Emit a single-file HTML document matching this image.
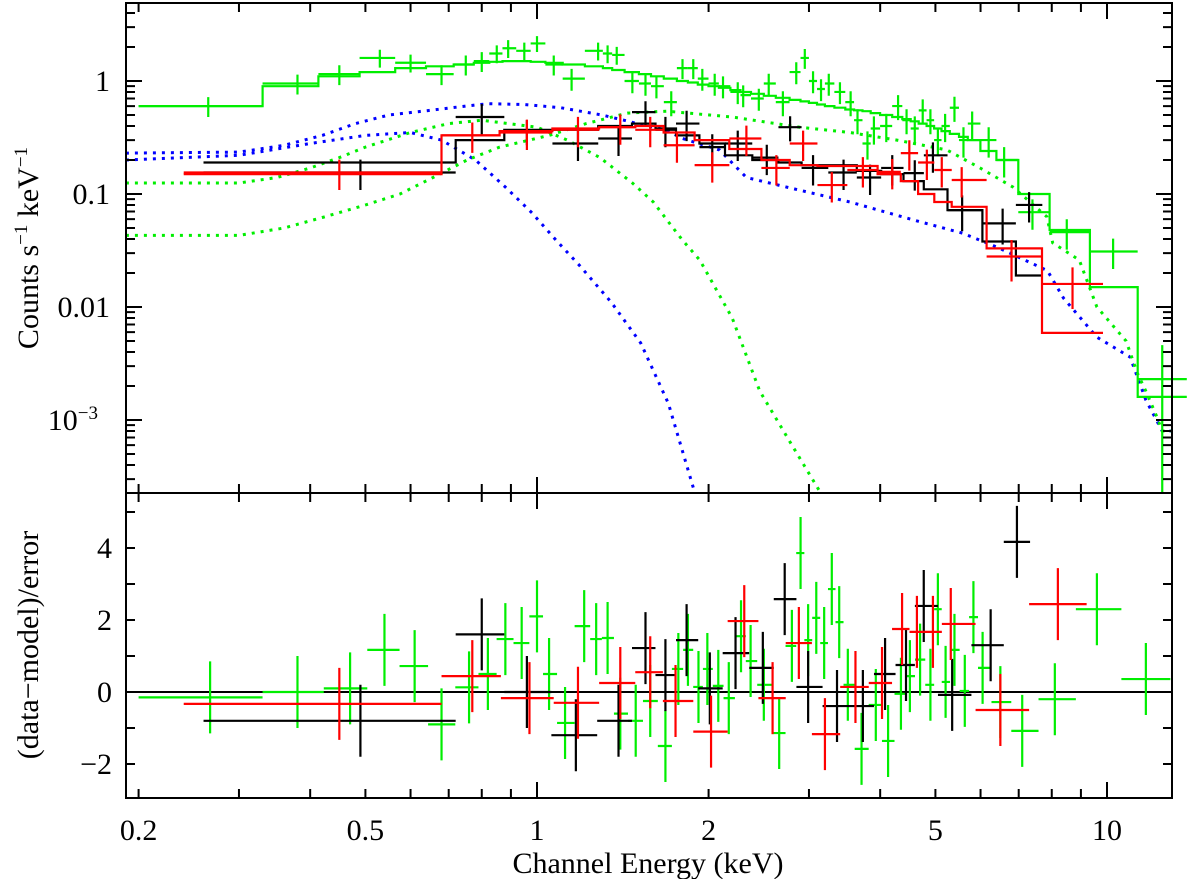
<!DOCTYPE html>
<html><head><meta charset="utf-8"><style>
html,body{margin:0;padding:0;background:#fff;}
svg{display:block;font-family:"Liberation Serif",serif;}
</style></head><body>
<svg id="chart" width="1200" height="879" viewBox="0 0 1200 879" xmlns="http://www.w3.org/2000/svg">
<g id="topPanel"></g>
<g id="botPanel"></g>
<g id="axes"></g>
<text x="648" y="873" font-size="30" text-anchor="middle">Channel Energy (keV)</text>
<text transform="translate(38,248) rotate(-90)" font-size="30" text-anchor="middle">Counts s<tspan font-size="19" dy="-11">−1</tspan><tspan dy="11"> keV</tspan><tspan font-size="19" dy="-11">−1</tspan></text>
<text transform="translate(38,645) rotate(-90)" font-size="30" text-anchor="middle">(data−model)/error</text>
</svg>
<script>
// ---- data ----
const greenE=[0.265,0.38,0.45,0.53,0.6,0.68,0.75,0.8,0.85,0.89,0.95,1.0,1.07,1.15,1.28,1.33,1.38,1.47,1.55,1.62,1.72,1.8,1.88,1.95,2.05,2.12,2.25,2.3,2.45,2.55,2.7,2.85,2.95,3.05,3.15,3.25,3.4,3.55,3.65,3.8,3.9,4.1,4.3,4.45,4.6,4.75,4.9,5.05,5.2,5.4,5.6,5.8,6.2,6.6,7.4,8.5,10.25,12.5];
const greenV=[0.6,0.95,1.15,1.6,1.45,1.15,1.4,1.5,1.75,1.95,1.85,2.15,1.4,1.05,1.85,1.75,1.7,1.0,0.95,0.9,0.65,1.3,1.3,1.05,0.95,0.9,0.8,0.75,0.7,0.95,0.65,1.2,1.6,1.0,0.85,0.95,0.8,0.65,0.45,0.28,0.38,0.4,0.6,0.45,0.38,0.55,0.45,0.3,0.4,0.58,0.3,0.42,0.3,0.2,0.069,0.046,0.031,0.0023];
const greenModel=[0.6,0.9,1.1,1.2,1.3,1.35,1.4,1.45,1.48,1.5,1.5,1.48,1.45,1.4,1.35,1.3,1.25,1.2,1.15,1.1,1.05,1.0,0.97,0.93,0.9,0.87,0.83,0.8,0.77,0.74,0.71,0.68,0.66,0.64,0.62,0.6,0.58,0.56,0.55,0.54,0.52,0.5,0.48,0.46,0.44,0.42,0.4,0.38,0.36,0.34,0.32,0.3,0.24,0.2,0.1,0.048,0.015,0.0016];
const greenErr=[0.2,0.2,0.2,0.18,0.18,0.2,0.2,0.2,0.18,0.18,0.18,0.16,0.2,0.22,0.18,0.18,0.18,0.22,0.22,0.22,0.25,0.2,0.2,0.22,0.22,0.22,0.22,0.22,0.22,0.22,0.25,0.22,0.2,0.22,0.22,0.22,0.22,0.25,0.25,0.28,0.28,0.28,0.25,0.25,0.28,0.25,0.25,0.28,0.28,0.25,0.3,0.28,0.3,0.3,0.3,0.3,0.3,1.0];
const greenFirstBin=[0.2,0.33];
const blackE=[0.49,0.8,0.96,1.18,1.39,1.55,1.68,1.83,2.03,2.25,2.53,2.78,3.05,3.45,3.84,4.2,4.6,4.95,5.57,6.56,7.3];
const blackV=[0.155,0.48,0.36,0.28,0.31,0.53,0.37,0.42,0.26,0.28,0.21,0.39,0.17,0.155,0.14,0.17,0.153,0.22,0.072,0.055,0.08];
const blackModel=[0.19,0.3,0.37,0.37,0.4,0.42,0.38,0.33,0.28,0.22,0.2,0.19,0.18,0.18,0.16,0.15,0.13,0.11,0.072,0.038,0.019];
const blackErr=[0.3,0.3,0.25,0.3,0.3,0.25,0.3,0.3,0.3,0.3,0.3,0.25,0.3,0.3,0.3,0.3,0.3,0.3,0.35,0.35,0.3];
const blackFirstBin=[0.26,0.72];
const redE=[0.45,0.77,0.96,1.18,1.4,1.58,1.76,2.03,2.33,2.63,2.93,3.29,3.73,4.2,4.5,4.83,5.13,5.56,6.8,8.7];
const redV=[0.155,0.33,0.35,0.37,0.39,0.37,0.27,0.18,0.31,0.17,0.28,0.12,0.163,0.157,0.23,0.19,0.163,0.133,0.028,0.016];
const redModel=[0.15,0.33,0.36,0.38,0.39,0.4,0.35,0.3,0.25,0.2,0.18,0.177,0.177,0.15,0.13,0.1,0.085,0.077,0.033,0.0059];
const redErr=[0.3,0.3,0.3,0.3,0.3,0.3,0.3,0.3,0.3,0.3,0.3,0.3,0.3,0.3,0.3,0.3,0.3,0.3,0.4,0.4];
const redFirstBin=[0.24,0.68];
const blueHardE=[0.19,0.3,0.36,0.42,0.48,0.55,0.65,0.75,0.82,0.95,1.1,1.3,1.42,1.5,1.68,1.8,2.09,2.33,2.89,3.54,4.57,5.58,6.4,7.86,8.39,9.6,10.98,11.7,12.5,13];
const blueHardV=[0.23,0.235,0.27,0.33,0.42,0.5,0.55,0.6,0.63,0.62,0.58,0.5,0.45,0.42,0.37,0.31,0.245,0.14,0.108,0.085,0.059,0.045,0.034,0.021,0.012,0.0054,0.0036,0.0015,0.0008,0.0008];
const blueSoftE=[0.19,0.3,0.4,0.5,0.6,0.68,0.78,0.88,0.98,1.08,1.19,1.35,1.52,1.7,1.89];
const blueSoftV=[0.2,0.22,0.28,0.33,0.35,0.3,0.2,0.115,0.068,0.039,0.023,0.011,0.0048,0.0014,0.00023];
const greenSoftE=[0.19,0.3,0.35,0.4,0.45,0.5,0.6,0.7,0.8,1.0,1.13,1.29,1.47,1.6,1.69,1.8,1.93,2.2,2.46,2.8,3.14];
const greenSoftV=[0.125,0.125,0.14,0.17,0.21,0.26,0.35,0.42,0.45,0.39,0.3,0.21,0.125,0.085,0.059,0.039,0.026,0.008,0.0018,0.0006,0.00023];
const greenHardE=[0.19,0.3,0.36,0.42,0.5,0.575,0.657,0.754,0.86,1.05,1.22,1.44,1.69,2.2,2.89,3.54,4.28,5.24,5.99,6.84,7.84,8.03,8.94,9.6,10.8,11.3,11.7,12.2,12.5,13];
const greenHardV=[0.043,0.043,0.05,0.062,0.08,0.1,0.14,0.2,0.26,0.33,0.42,0.52,0.54,0.48,0.39,0.35,0.3,0.245,0.17,0.115,0.063,0.037,0.026,0.01,0.005,0.0026,0.0018,0.0011,0.0008,0.0008];
const greenResE=[0.267,0.38,0.47,0.54,0.61,0.68,0.76,0.82,0.88,0.94,1.0,1.05,1.12,1.21,1.27,1.33,1.4,1.49,1.58,1.68,1.77,1.84,1.92,1.99,2.08,2.17,2.28,2.37,2.5,2.66,2.8,2.9,2.99,3.09,3.19,3.29,3.39,3.51,3.71,3.93,4.13,4.35,4.51,4.7,4.9,5.05,5.21,5.4,5.63,5.83,6.05,6.5,7.1,8.1,9.6,11.7];
const greenResV=[-0.15,0,0.1,1.17,0.72,-0.9,0.13,0.5,1.47,1.36,2.1,0.5,-0.86,1.83,1.47,1.5,-0.6,-0.8,-0.25,-1.5,0.64,1.17,0.14,0.64,0.17,-0.17,1.55,0.86,0.2,-1.14,1.28,3.86,1.44,2.06,1.36,2.86,1.94,0.2,-1.58,-0.36,-1.36,-0.05,0.44,0.9,0.2,2.3,0.28,1.17,0.03,2.08,0.67,-0.28,-1.08,-0.2,2.3,0.36];
const blackResE=[0.49,0.8,0.96,1.17,1.39,1.55,1.68,1.83,2.01,2.23,2.49,2.72,2.99,3.36,3.73,4.08,4.44,4.77,5.35,6.25,6.95];
const blackResV=[-0.8,1.6,0,-1.2,-0.8,1.22,0.47,1.44,0.1,1.08,0.67,2.58,0.14,-0.39,-0.39,0.5,0.75,2.39,-0.08,1.3,4.17];
const redResE=[0.45,0.77,0.97,1.18,1.4,1.58,1.75,2.02,2.31,2.59,2.88,3.2,3.62,4.03,4.37,4.64,4.95,5.32,6.5,8.2];
const redResV=[-0.33,0.44,-0.17,-0.3,0.25,0.55,-0.25,-1.1,1.97,-0.17,1.36,-1.17,0.14,0.25,1.75,1.67,1.67,1.89,-0.5,2.44];
const xTickLabels=["0.2","0.5","1","2","5","10"];
const xTickValues=[0.2,0.5,1,2,5,10];
const yTopTickValues=[1,0.1,0.01,0.001];
const yTopTickLabels=["1","0.1","0.01","10"];
const yBotTickValues=[-2,0,2,4];

// ---- axes ----
const L=126,R=1172,T=3,MID=493,B=798;
const xs=e=>537+570*Math.log10(e);
const yt=v=>81-113*Math.log10(v);
const yb=r=>692-36*r;
const NS="http://www.w3.org/2000/svg";
function mk(tag,attrs,parent){const el=document.createElementNS(NS,tag);for(const k in attrs)el.setAttribute(k,attrs[k]);parent.appendChild(el);return el;}
const topG=document.getElementById('topPanel'),botG=document.getElementById('botPanel'),axesG=document.getElementById('axes');
const COL={green:'#00ee00',black:'#000',red:'#ff0000',blue:'#0000ff'};
function edges(E,first){const ed=[];for(let i=0;i<E.length;i++){let lo,hi;
 if(i===0&&first){lo=first[0];hi=first[1];}else{lo=i===0?E[0]*E[0]/Math.sqrt(E[0]*E[1]):(i===1&&first?first[1]:Math.sqrt(E[i-1]*E[i]));
 hi=i===E.length-1?E[i]*E[i]/lo:Math.sqrt(E[i]*E[i+1]);}
 ed.push([lo,hi]);}return ed;}
function clipTop(y){return Math.max(T,Math.min(MID,y));}
function dataset(E,V,Err,M,first,col,name){
 const ed=edges(E,first);
 const gm=mk('path',{d:'',fill:'none',stroke:col,'stroke-width':2.2},topG);
 
 
 let d='';
 for(let i=0;i<E.length;i++){const x1=xs(ed[i][0]),x2=xs(ed[i][1]),y=clipTop(yt(M[i]));
  d+=(i===0?'M':'L')+x1.toFixed(1)+','+y.toFixed(1)+'L'+x2.toFixed(1)+','+y.toFixed(1);}
 gm.setAttribute('d',d);
 for(let i=0;i<E.length;i++){const x1=xs(ed[i][0]),x2=xs(ed[i][1]),xc=xs(E[i]);
  const y=yt(V[i]);const s=V[i]*Err[i];const yu=clipTop(yt(V[i]+s));const yl=V[i]-s>0?clipTop(yt(V[i]-s)):MID;
  const g=mk('path',{d:`M${x1},${y}L${x2},${y}M${xc},${yu}L${xc},${yl}`,stroke:col,'stroke-width':2.2,fill:'none'},topG);
  
  }
}
function resid(E,V,first,col,name){
 const ed=edges(E,first);
 for(let i=0;i<E.length;i++){const x1=xs(ed[i][0]),x2=xs(ed[i][1]),xc=xs(E[i]),y=yb(V[i]);
  const g=mk('path',{d:`M${x1},${y}L${x2},${y}M${xc},${yb(V[i]+1)}L${xc},${yb(V[i]-1)}`,stroke:col,'stroke-width':2.2,fill:'none'},botG);
  
  }
}
function dotted(E,V,col,name){let d='';for(let i=0;i<E.length;i++){let y=yt(V[i]);d+=(i?'L':'M')+xs(E[i]).toFixed(1)+','+y.toFixed(1);}
 const p=mk('path',{d,fill:'none',stroke:col,'stroke-width':3,'stroke-dasharray':'3,6','clip-path':'url(#clipTop)'},topG);
 
 }
const defs=mk('defs',{},topG);const cp=mk('clipPath',{id:'clipTop'},defs);mk('rect',{x:L,y:T,width:R-L,height:MID-T},cp);
dotted(blueHardE,blueHardV,COL.blue,'blue-hard-component');
dotted(blueSoftE,blueSoftV,COL.blue,'blue-soft-component');
dotted(greenSoftE,greenSoftV,COL.green,'green-soft-component');
dotted(greenHardE,greenHardV,COL.green,'green-hard-component');
dataset(greenE,greenV,greenErr,greenModel,greenFirstBin,COL.green,'green');
dataset(blackE,blackV,blackErr,blackModel,blackFirstBin,COL.black,'black');
dataset(redE,redV,redErr,redModel,redFirstBin,COL.red,'red');
const zl=mk('line',{x1:L,x2:R,y1:yb(0),y2:yb(0),stroke:'#000','stroke-width':2},botG);


resid(greenResE,greenResV,greenFirstBin,COL.green,'green');
resid(blackResE,blackResV,blackFirstBin,COL.black,'black');
resid(redResE,redResV,redFirstBin,COL.red,'red');
const f1=mk('rect',{x:L,y:T,width:R-L,height:MID-T,fill:'none',stroke:'#000','stroke-width':2},axesG);


const f2=mk('rect',{x:L,y:MID,width:R-L,height:B-MID,fill:'none',stroke:'#000','stroke-width':2},axesG);


let td='';
for(let dec=0.1;dec<20;dec*=10){for(let m=1;m<10;m++){const e=dec*m;if(e<0.19||e>13.1)continue;const x=xs(e);const len=(m===1)?16:9;
 td+=`M${x},${T}v${len}M${x},${MID}v${-len}M${x},${MID}v${len}M${x},${B}v${-len}`;}}
for(let p=-4;p<=0;p++){for(let m=1;m<10;m++){const v=m*Math.pow(10,p);const y=yt(v);if(y<T||y>MID)continue;const len=m===1?16:9;
 td+=`M${L},${y}h${len}M${R},${y}h${-len}`;}}
for(let r=-2;r<=5;r++){const y=yb(r);td+=`M${L},${y}h9M${R},${y}h-9`;}
const tk=mk('path',{d:td,stroke:'#000','stroke-width':2,fill:'none'},axesG);


xTickValues.forEach((v,i)=>{const t=mk('text',{x:xs(v),y:840,'font-size':30,'text-anchor':'middle'},axesG);t.textContent=xTickLabels[i];
 
 });
yTopTickValues.forEach((v,i)=>{const t=mk('text',{x:110,y:yt(v)+10,'font-size':30,'text-anchor':'end'},axesG);t.textContent=yTopTickLabels[i];
 if(v===0.001){t.setAttribute('x',98);const s=mk('tspan',{'font-size':19,dy:-11},t);s.textContent='−3';}
 
 });
yBotTickValues.forEach(v=>{const t=mk('text',{x:112,y:yb(v)+10,'font-size':30,'text-anchor':'end'},axesG);t.textContent=v<0?'−'+(-v):String(v);
 
 });
</script>
</body></html>
